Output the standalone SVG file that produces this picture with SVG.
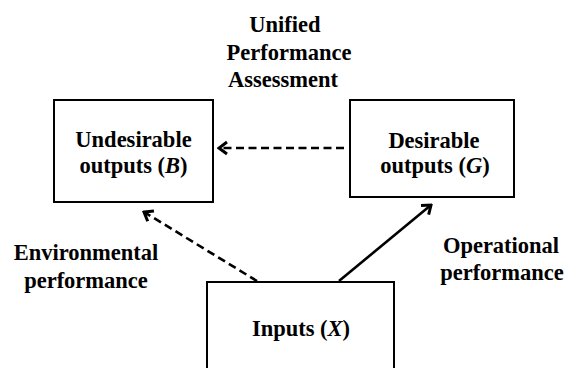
<svg xmlns="http://www.w3.org/2000/svg" width="568" height="368" viewBox="0 0 568 368">
<style>
.box{fill:#fff;stroke:#000;stroke-width:2}
.t{font-family:'Liberation Serif','Times New Roman',Tinos,'DejaVu Serif',serif;font-weight:700;font-size:22.5px;fill:#000}
.m{text-anchor:middle}
.c{fill:none;stroke:#000;stroke-width:2.6}
.d{stroke-dasharray:8,4.5}
</style>
<defs>
<marker id="ah" markerUnits="userSpaceOnUse" viewBox="-12 -10 14 20" markerWidth="14" markerHeight="20" refX="0" refY="0" orient="auto">
<path d="M-8,-6 L0,0 L-8,6" fill="none" stroke="#000" stroke-width="3" stroke-dasharray="none"/>
</marker>
</defs>
<rect width="568" height="368" fill="#fff"/>
<g id="title">
<text class="t m" x="285" y="32">Unified</text>
<text class="t m" x="289" y="60">Performance</text>
<text class="t m" x="283" y="87">Assessment</text>
</g>
<g id="connectors">
<line class="c d" x1="344" y1="148" x2="219" y2="148" marker-end="url(#ah)"/>
<line class="c d" x1="257" y1="281" x2="144" y2="212" marker-end="url(#ah)"/>
<line class="c" x1="339" y1="281" x2="431" y2="205" marker-end="url(#ah)"/>
</g>
<g id="undesirable">
<rect class="box" x="54" y="100" width="159" height="102"/>
<text class="t m" x="133.5" y="147">Undesirable</text>
<text class="t m" x="133.5" y="173">outputs (<tspan font-style="italic">B</tspan>)</text>
</g>
<g id="desirable">
<rect class="box" x="350" y="100" width="164" height="97"/>
<text class="t m" x="434" y="148">Desirable</text>
<text class="t m" x="435" y="173">outputs (<tspan font-style="italic">G</tspan>)</text>
</g>
<g id="inputs">
<rect class="box" x="207" y="282" width="187" height="100"/>
<text class="t m" x="301" y="336">Inputs (<tspan font-style="italic">X</tspan>)</text>
</g>
<g id="labels">
<text class="t m" x="86" y="260">Environmental</text>
<text class="t m" x="86" y="288">performance</text>
<text class="t m" x="501" y="253">Operational</text>
<text class="t m" x="502" y="280">performance</text>
</g>
</svg>
